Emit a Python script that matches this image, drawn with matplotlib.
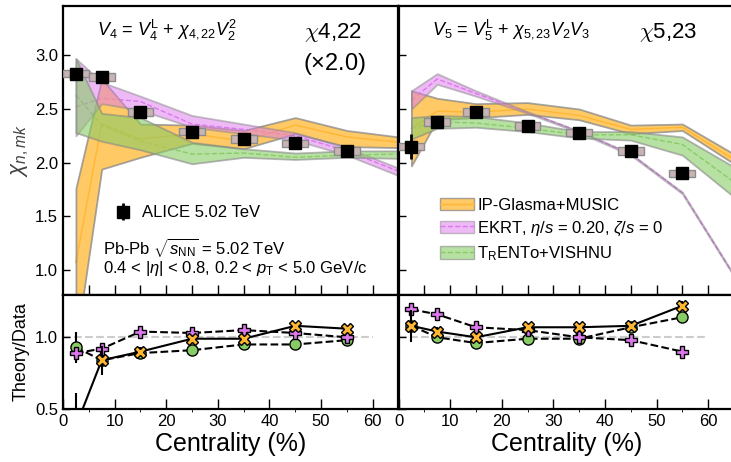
import numpy as np
import matplotlib
matplotlib.use("Agg")
import matplotlib.pyplot as plt
from matplotlib.patches import Patch
from matplotlib.lines import Line2D

plt.rcParams['font.family'] = ['Liberation Sans', 'DejaVu Sans']
plt.rcParams['mathtext.fontset'] = 'custom'
plt.rcParams['mathtext.rm'] = 'Liberation Sans'
plt.rcParams['mathtext.it'] = 'Liberation Sans:italic'
plt.rcParams['mathtext.bf'] = 'Liberation Sans:bold'

# ---- data ----
cent = [2.5, 7.5, 15, 25, 35, 45, 55]
cent_band = [2.5, 7.5, 15, 25, 35, 45, 55, 65]

# chi_4,22 (x2.0)
alice_422 = [2.83, 2.80, 2.47, 2.29, 2.22, 2.18, 2.11]
alice_422_err = [0.02, 0.02, 0.015, 0.015, 0.015, 0.015, 0.015]
ipg_422_lo = [0.30, 1.94, 2.05, 2.18, 2.13, 2.27, 2.15, 2.14]
ipg_422_hi = [1.76, 2.78, 2.36, 2.35, 2.30, 2.42, 2.30, 2.24]
ipg_422_mid = [1.07, 2.36, 2.22, 2.27, 2.20, 2.35, 2.24, 2.19]
ekrt_422_lo = [2.25, 2.55, 2.49, 2.33, 2.27, 2.21, 2.07, 1.88]
ekrt_422_hi = [2.97, 2.75, 2.62, 2.44, 2.36, 2.28, 2.14, 1.95]
ekrt_422_mid = [2.52, 2.60, 2.57, 2.36, 2.31, 2.25, 2.11, 1.92]
trento_422_lo = [2.28, 2.20, 2.12, 1.99, 2.05, 2.03, 2.05, 2.04]
trento_422_hi = [2.97, 2.46, 2.42, 2.19, 2.13, 2.09, 2.11, 2.11]
trento_422_mid = [2.63, 2.35, 2.20, 2.08, 2.09, 2.05, 2.07, 2.08]

# chi_5,23
alice_523 = [2.15, 2.38, 2.47, 2.34, 2.28, 2.11, 1.90]
alice_523_err = [0.12, 0.02, 0.02, 0.015, 0.015, 0.02, 0.05]
ipg_523_lo = [1.97, 2.40, 2.42, 2.45, 2.40, 2.27, 2.30, 1.99]
ipg_523_hi = [2.67, 2.60, 2.55, 2.56, 2.50, 2.35, 2.36, 2.08]
ipg_523_mid = [2.32, 2.48, 2.47, 2.50, 2.44, 2.31, 2.33, 2.03]
ekrt_523_lo = [2.50, 2.73, 2.62, 2.46, 2.28, 2.07, 1.71, 0.94]
ekrt_523_hi = [2.67, 2.83, 2.67, 2.475, 2.295, 2.085, 1.725, 0.955]
ekrt_523_mid = [2.58, 2.78, 2.645, 2.47, 2.29, 2.08, 1.72, 0.95]
trento_523_lo = [2.22, 2.32, 2.33, 2.29, 2.23, 2.21, 2.07, 1.68]
trento_523_hi = [2.42, 2.44, 2.43, 2.37, 2.29, 2.29, 2.24, 1.96]
trento_523_mid = [2.32, 2.38, 2.37, 2.32, 2.26, 2.26, 2.17, 1.82]

# Theory/Data
ipg_422_ratio = [0.38, 0.84, 0.90, 0.99, 0.99, 1.08, 1.06]
ipg_422_rerr = [0.23, 0.10, 0.03, 0.02, 0.02, 0.02, 0.02]
ekrt_422_ratio = [0.89, 0.92, 1.04, 1.03, 1.05, 1.03, 1.00]
ekrt_422_rerr = [0.04, 0.03, 0.02, 0.02, 0.02, 0.02, 0.02]
trento_422_ratio = [0.93, 0.84, 0.89, 0.91, 0.95, 0.95, 0.98]
trento_422_rerr = [0.11, 0.04, 0.03, 0.02, 0.02, 0.02, 0.02]

ipg_523_ratio = [1.08, 1.04, 1.00, 1.07, 1.07, 1.08, 1.22]
ipg_523_rerr = [0.11, 0.03, 0.02, 0.02, 0.02, 0.02, 0.03]
ekrt_523_ratio = [1.195, 1.16, 1.07, 1.05, 1.00, 0.98, 0.90]
ekrt_523_rerr = [0.04, 0.02, 0.02, 0.02, 0.02, 0.02, 0.02]
trento_523_ratio = [1.08, 1.00, 0.96, 0.99, 0.99, 1.07, 1.14]
trento_523_rerr = [0.05, 0.02, 0.02, 0.02, 0.02, 0.02, 0.03]

# ---- styles ----
c_ipg = '#ffb733'
c_ekrt = '#dd77ee'
c_trento = '#88cc66'
edge = '#888888'

fig = plt.figure(figsize=(7.31, 4.62), dpi=100)
W = 335.5 / 731
ax_tl = fig.add_axes([63 / 731, 0.3615, W, 0.6255])
ax_tr = fig.add_axes([398.5 / 731, 0.3615, W, 0.6255])
ax_bl = fig.add_axes([63 / 731, 0.1147, W, 0.2468])
ax_br = fig.add_axes([398.5 / 731, 0.1147, W, 0.2468])


def bands(ax, data):
    for lo, hi, mid, col, ls, fa in data:
        ax.plot(cent_band, mid, color=col, ls=ls, lw=1.0, zorder=2)
        ax.fill_between(cent_band, lo, hi, facecolor=col, alpha=fa,
                        edgecolor=edge, linewidth=1.3, zorder=2.5)


def alice(ax, y, yerr):
    for x, v in zip(cent, y):
        ax.add_patch(plt.Rectangle((x - 2.5, v - 0.035), 5, 0.07,
                                   facecolor='#c8b4b4', edgecolor='#8c8c8c',
                                   lw=1.0, zorder=4))
    return ax.errorbar(cent, y, yerr=yerr, fmt='s', color='black', ms=8,
                       elinewidth=2, capsize=0, zorder=5)


bands(ax_tl, [(ipg_422_lo, ipg_422_hi, ipg_422_mid, c_ipg, '-', 0.75),
              (ekrt_422_lo, ekrt_422_hi, ekrt_422_mid, c_ekrt, '--', 0.5),
              (trento_422_lo, trento_422_hi, trento_422_mid, c_trento, '--', 0.6)])
h_alice = alice(ax_tl, alice_422, alice_422_err)

bands(ax_tr, [(ipg_523_lo, ipg_523_hi, ipg_523_mid, c_ipg, '-', 0.75),
              (ekrt_523_lo, ekrt_523_hi, ekrt_523_mid, c_ekrt, '--', 0.5),
              (trento_523_lo, trento_523_hi, trento_523_mid, c_trento, '--', 0.6)])
alice(ax_tr, alice_523, alice_523_err)


def ratios(ax, ipg, ipg_e, ekrt, ekrt_e, trento, trento_e):
    ax.axhline(1.0, xmin=0, xmax=60 / 65, color='#cccccc', ls='--', lw=1.5, zorder=1)
    ax.errorbar(cent, trento, yerr=trento_e, fmt='o--', color='black', mfc=c_trento,
                mec='black', ms=8, lw=1.5, elinewidth=1.5, capsize=0, zorder=3)
    ax.errorbar(cent, ekrt, yerr=ekrt_e, fmt='P--', color='black', mfc=c_ekrt,
                mec='black', ms=9, lw=1.5, elinewidth=1.5, capsize=0, zorder=4)
    ax.errorbar(cent, ipg, yerr=ipg_e, fmt='X-', color='black', mfc=c_ipg,
                mec='black', ms=9, lw=1.5, elinewidth=1.5, capsize=0, zorder=5)


ratios(ax_bl, ipg_422_ratio, ipg_422_rerr, ekrt_422_ratio, ekrt_422_rerr,
       trento_422_ratio, trento_422_rerr)
ratios(ax_br, ipg_523_ratio, ipg_523_rerr, ekrt_523_ratio, ekrt_523_rerr,
       trento_523_ratio, trento_523_rerr)

# ---- axes cosmetics ----
for ax in [ax_tl, ax_tr, ax_bl, ax_br]:
    ax.set_xlim(0, 65)
    for s in ax.spines.values():
        s.set_linewidth(1.6)
    ax.tick_params(direction='in', width=1.0, labelsize=12)
    ax.tick_params(axis='x', length=7)
    ax.tick_params(axis='y', length=5)
    ax.set_xticks(np.arange(0, 65, 5), minor=True)

for ax in [ax_tl, ax_tr]:
    ax.set_ylim(0.767, 3.46)
    ax.set_yticks([1.0, 1.5, 2.0, 2.5, 3.0])
    ax.set_xticks(np.arange(5, 65, 5))
    ax.set_xticklabels([])

for ax in [ax_bl, ax_br]:
    ax.set_ylim(0.5, 1.295)
    ax.set_yticks([0.5, 1.0])
    ax.set_xticks(np.arange(0, 65, 10))
    ax.set_xlabel('Centrality (%)', fontsize=18, labelpad=2)

ax_tl.set_yticklabels(['1.0', '1.5', '2.0', '2.5', '3.0'])
ax_tr.set_yticklabels([])
ax_bl.set_yticklabels(['0.5', '1.0'])
ax_br.set_yticklabels([])
ax_tl.set_ylabel(r'$\chi_{n,mk}$', fontsize=16, color='#444444')
ax_bl.set_ylabel('Theory/Data', fontsize=13)
ax_tl.yaxis.set_label_coords(-0.095, 0.5)
ax_bl.yaxis.set_label_coords(-0.1, 0.5)

# ---- text ----
ax_tl.text(0.101, 0.917, r'$V_4$ = $V_4^{\rm L}$ + $\chi_{4,22}V_2^2$',
           transform=ax_tl.transAxes, fontsize=13, va='center')
ax_tl.text(0.805, 0.907, r'$\chi$4,22', transform=ax_tl.transAxes,
           fontsize=16, ha='center', va='center', math_fontfamily='cm')
ax_tl.text(0.81, 0.80, r'($\times$2.0)', transform=ax_tl.transAxes,
           fontsize=17, ha='center', va='center')
ax_tl.text(0.119, 0.163, r'Pb-Pb $\sqrt{s_{\rm NN}}$ = 5.02 TeV',
           transform=ax_tl.transAxes, fontsize=12, va='center')
ax_tl.text(0.119, 0.093, r'0.4 < $|\eta|$ < 0.8, 0.2 < $p_{\rm T}$ < 5.0 GeV/c',
           transform=ax_tl.transAxes, fontsize=12, va='center')
ax_tl.legend([h_alice], ['ALICE 5.02 TeV'], loc='center left',
             bbox_to_anchor=(0.13, 0.284), frameon=False, fontsize=12,
             handlelength=1.2, handletextpad=0.5, borderaxespad=0)

ax_tr.text(0.10, 0.917, r'$V_5$ = $V_5^{\rm L}$ + $\chi_{5,23}V_2V_3$',
           transform=ax_tr.transAxes, fontsize=13, va='center')
ax_tr.text(0.803, 0.907, r'$\chi$5,23', transform=ax_tr.transAxes,
           fontsize=16, ha='center', va='center', math_fontfamily='cm')

h_ipg = (Patch(facecolor=c_ipg, alpha=0.75, edgecolor=edge),
         Line2D([], [], color=c_ipg, lw=1))
h_ekrt = (Patch(facecolor=c_ekrt, alpha=0.5, edgecolor=edge),
          Line2D([], [], color=c_ekrt, lw=1, ls='--'))
h_trento = (Patch(facecolor=c_trento, alpha=0.6, edgecolor=edge),
            Line2D([], [], color=c_trento, lw=1, ls='--'))
ax_tr.legend([h_ipg, h_ekrt, h_trento],
             ['IP-Glasma+MUSIC', r'EKRT, $\eta/s$ = 0.20, $\zeta/s$ = 0',
              r'T$_{\rm R}$ENTo+VISHNU'],
             loc='upper left', bbox_to_anchor=(0.105, 0.36), frameon=False,
             fontsize=12, handlelength=2.0, handleheight=0.75,
             handletextpad=0.2, labelspacing=0.4, borderaxespad=0)

fig.savefig('out.png', dpi=100)
